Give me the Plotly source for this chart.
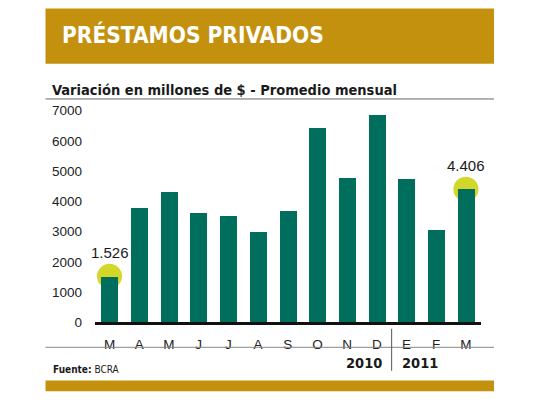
import plotly.graph_objects as go

months = ["M", "A", "M", "J", "J", "A", "S", "O", "N", "D", "E", "F", "M"]
values = [1526, 3790, 4330, 3620, 3530, 2985, 3700, 6425, 4780, 6865, 4760, 3070, 4406]
highlight = [0, 12]
years = ["2010", "2011"]
title = "PRÉSTAMOS PRIVADOS"
subtitle = "Variación en millones de $ - Promedio mensual"
source_bold = "Fuente:"
source_text = "BCRA"
yticks = [0, 1000, 2000, 3000, 4000, 5000, 6000, 7000]

W, H = 540, 405
OFF = 8  # page body margin in the browser
GOLD = "#C4910F"
TEAL = "#006E5C"
HL = "#D3D72A"
NARROW = "DejaVu Sans Condensed, DejaVu Sans, sans-serif"
SANS = "Liberation Sans, Arial, Helvetica, sans-serif"

def px(x):
    return (x - OFF) / W

def py(y):
    return 1 - (y - OFF) / H

xs = list(range(len(months)))

fig = go.Figure()
fig.add_trace(go.Bar(x=xs, y=values, marker=dict(color=TEAL, line=dict(width=0)),
                     width=0.57, hoverinfo="skip"))

# highlight circles behind the bars
for i in highlight:
    fig.add_shape(type="circle", xref="x", yref="y", layer="below",
                  xsizemode="pixel", ysizemode="pixel",
                  xanchor=xs[i], yanchor=values[i],
                  x0=-12.5, x1=12.5, y0=-12.5, y1=12.5,
                  fillcolor=HL, line=dict(width=0))
    fig.add_annotation(x=xs[i], y=values[i], xref="x", yref="y",
                       text=f"{values[i]:,}".replace(",", "."),
                       showarrow=False, yanchor="bottom", yshift=13,
                       font=dict(family=SANS, size=15, color="#1a1a1a"))

# top banner
fig.add_shape(type="rect", xref="paper", yref="paper",
              x0=px(45.5), x1=px(494), y0=py(64), y1=py(7.5),
              fillcolor=GOLD, line=dict(width=0), layer="below")
fig.add_annotation(xref="paper", yref="paper", x=px(60), y=py(34),
                   text=f"<b>{title}</b>", showarrow=False,
                   xanchor="left", yanchor="middle",
                   font=dict(family=NARROW, size=22.5, color="white"))
# subtitle
fig.add_annotation(xref="paper", yref="paper", x=px(50), y=py(91),
                   text=f"<b>{subtitle}</b>", showarrow=False,
                   xanchor="left", yanchor="middle",
                   font=dict(family=NARROW, size=14.5, color="#1a1a1a"))
fig.add_shape(type="line", xref="paper", yref="paper",
              x0=px(45.5), x1=px(494), y0=py(100), y1=py(100),
              line=dict(color="#666666", width=1))

# line under month labels
fig.add_shape(type="line", xref="paper", yref="paper",
              x0=px(45.5), x1=px(494), y0=py(354), y1=py(354),
              line=dict(color="#888888", width=1))
# year separator between D and E
fig.add_shape(type="line", xref="x", yref="paper",
              x0=9.5, x1=9.5, y0=py(378), y1=py(335),
              line=dict(color="#555555", width=1))
fig.add_annotation(xref="x", yref="paper", x=9.5, y=py(370),
                   text=f"<b>{years[0]}</b>", showarrow=False,
                   xanchor="right", yanchor="middle", xshift=-8,
                   font=dict(family=NARROW, size=14.5, color="#1a1a1a"))
fig.add_annotation(xref="x", yref="paper", x=9.5, y=py(370),
                   text=f"<b>{years[1]}</b>", showarrow=False,
                   xanchor="left", yanchor="middle", xshift=8,
                   font=dict(family=NARROW, size=14.5, color="#1a1a1a"))
# source
fig.add_annotation(xref="paper", yref="paper", x=px(51), y=py(377),
                   text=f"<b>{source_bold}</b> {source_text}", showarrow=False,
                   xanchor="left", yanchor="middle",
                   font=dict(family=NARROW, size=10, color="#1a1a1a"))
# bottom bar
fig.add_shape(type="rect", xref="paper", yref="paper",
              x0=px(45.5), x1=px(494), y0=py(399), y1=py(388),
              fillcolor=GOLD, line=dict(width=0), layer="below")

y0_px, y7000_px = 328.5, 112.0
per = (y0_px - y7000_px) / 7000
ymax = 7200
top_px = y0_px - ymax * per
step = 29.7
x_first = 109.5

fig.update_layout(
    width=W, height=H,
    margin=dict(l=0, r=0, t=0, b=0),
    paper_bgcolor="white", plot_bgcolor="rgba(0,0,0,0)",
    showlegend=False, bargap=0,
    xaxis=dict(domain=[px(x_first - step / 2), px(x_first + step * 12.5)],
               range=[-0.5, len(months) - 0.5],
               tickvals=xs, ticktext=months,
               showline=True, linecolor="#111111", linewidth=3,
               ticks="outside", ticklen=7, tickcolor="rgba(0,0,0,0)",
               showgrid=False, zeroline=False, fixedrange=True,
               tickfont=dict(family=SANS, size=13.5, color="#222222")),
    yaxis=dict(domain=[py(y0_px), py(top_px)], range=[0, ymax],
               tickvals=yticks, ticktext=[str(t) for t in yticks],
               showline=False, showgrid=False, zeroline=False,
               ticks="outside", ticklen=0, ticklabelstandoff=9,
               tickfont=dict(family=SANS, size=13.5, color="#222222")),
)

fig.write_html("out.html")
